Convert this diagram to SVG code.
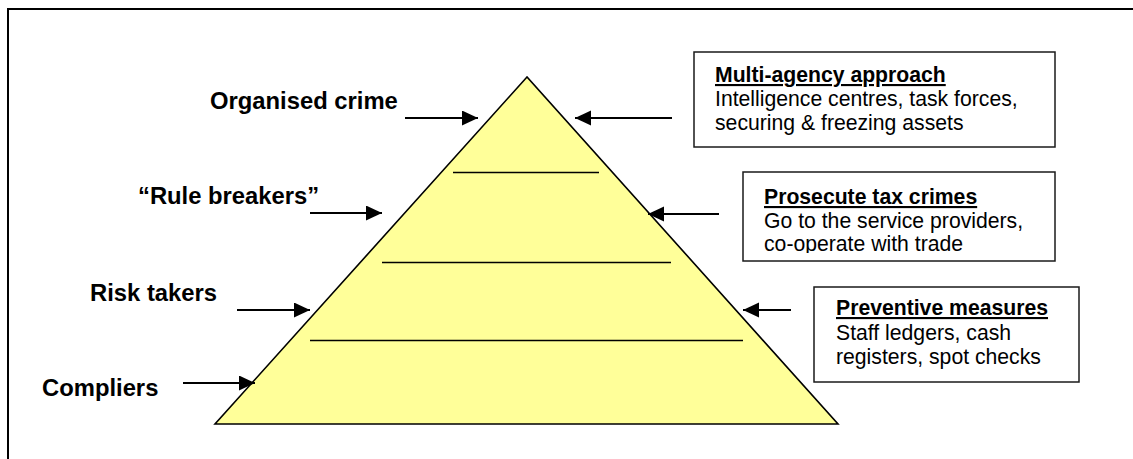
<svg xmlns="http://www.w3.org/2000/svg" width="1133" height="459" viewBox="0 0 1133 459">
<style>
.lbl{font-family:"Liberation Sans",Arial,sans-serif;font-weight:bold;font-size:23.8px;fill:#000}
.ttl{font-family:"Liberation Sans",Arial,sans-serif;font-weight:bold;font-size:21.2px;fill:#000;text-decoration:underline}
.bdy{font-family:"Liberation Sans",Arial,sans-serif;font-size:21.2px;fill:#000}
.box{fill:#fff;stroke:#1a1a1a;stroke-width:1.5}
.lvl{stroke:#000;stroke-width:1.6}
.arr{stroke:#000;stroke-width:2.2;fill:none;marker-end:url(#ah)}
</style>
<defs>
<marker id="ah" markerUnits="userSpaceOnUse" markerWidth="18" markerHeight="16" refX="16" refY="7.5" orient="auto">
<path d="M0,0 L16,7.5 L0,15 Z" fill="#000"/>
</marker>
<clipPath id="clip2"><rect x="743" y="172" width="312" height="81"/></clipPath>
</defs>
<rect x="0" y="0" width="1133" height="459" fill="#fff"/>
<rect id="frame" x="8" y="9" width="1140" height="470" fill="none" stroke="#000" stroke-width="2"/>
<g id="pyramid">
<polygon points="527,77 215,424 838,424" fill="#FFFF99" stroke="#000" stroke-width="1.6"/>
<line class="lvl" x1="453" y1="172.5" x2="599" y2="172.5"/>
<line class="lvl" x1="382" y1="262.5" x2="671" y2="262.5"/>
<line class="lvl" x1="310" y1="340.5" x2="743" y2="340.5"/>
</g>
<g id="label-organised"><text class="lbl" x="210" y="109">Organised crime</text></g>
<g id="label-rule"><text class="lbl" x="138" y="204">“Rule breakers”</text></g>
<g id="label-risk"><text class="lbl" x="90" y="301">Risk takers</text></g>
<g id="label-compliers"><text class="lbl" x="42" y="396">Compliers</text></g>
<g id="box-multi">
<rect class="box" x="694" y="52" width="361" height="95"/>
<text class="ttl" x="715" y="82">Multi-agency approach</text>
<text class="bdy" x="715" y="106">Intelligence centres, task forces,</text>
<text class="bdy" x="715" y="130">securing &amp; freezing assets</text>
</g>
<g id="box-prosecute">
<rect class="box" x="743" y="172" width="312" height="89"/>
<g clip-path="url(#clip2)">
<text class="ttl" x="764" y="204">Prosecute tax crimes</text>
<text class="bdy" x="764" y="228">Go to the service providers,</text>
<text class="bdy" x="764" y="251">co-operate with trade</text>
</g>
</g>
<g id="box-preventive">
<rect class="box" x="814" y="287" width="265" height="95"/>
<text class="ttl" x="836" y="315">Preventive measures</text>
<text class="bdy" x="836" y="340">Staff ledgers, cash</text>
<text class="bdy" x="836" y="364">registers, spot checks</text>
</g>
<g id="connectors">
<line class="arr" x1="405" y1="118" x2="478" y2="118"/>
<line class="arr" x1="672" y1="118" x2="575" y2="118"/>
<line class="arr" x1="310" y1="213" x2="382" y2="213"/>
<line class="arr" x1="719" y1="214" x2="648" y2="214"/>
<line class="arr" x1="237" y1="310" x2="310" y2="310"/>
<line class="arr" x1="791" y1="310" x2="743" y2="310"/>
<line class="arr" x1="183" y1="383" x2="255" y2="383"/>
</g>
</svg>
